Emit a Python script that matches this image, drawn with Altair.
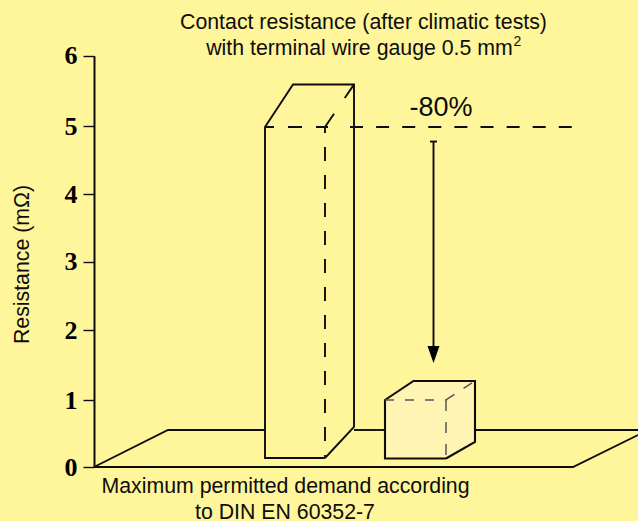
import altair as alt
import pandas as pd

BG = "#FFF59B"
INK = "#0D0D0D"

tick_values = [0, 1, 2, 3, 4, 5, 6]
tick_range = [467, 400.3, 330.3, 261.7, 194.3, 126.3, 55.7]

# solid outlines
floor_left_x = [94, 168, 265]
floor_left_y = [0, 0.555, 0.555]
floor_mid_x = [354, 385]
floor_mid_y = [0.555, 0.555]
floor_right_x = [475, 638]
floor_right_y = [0.555, 0.555]
floor_front_x = [94, 573, 638]
floor_front_y = [0, 0, 0.48]

tall_x = [325, 265, 265, 293, 354, 354, 325]
tall_y = [0.135, 0.135, 4.99, 5.592, 5.592, 0.60, 0.135]

small_fill_x = [385, 413.5, 446, 475]
small_fill_top = [1.005, 1.276, 1.276, 1.276]
small_fill_bottom = [0.127, 0.127, 0.127, 0.375]
small_x = [446, 385, 385, 413.5, 475, 475, 446]
small_y = [0.127, 0.127, 1.005, 1.276, 1.276, 0.375, 0.127]

# dashed lines
level_a_x = [265, 328]
level_a_y = [4.99, 4.99]
level_b_x = [350, 572]
level_b_y = [4.99, 4.99]
tall_edge_x = [325, 325]
tall_edge_y = [4.99, 0.135]
tall_diag_x = [325, 354]
tall_diag_y = [4.99, 5.592]
small_h_x = [385, 446]
small_h_y = [1.005, 1.005]
small_v_x = [446, 446]
small_v_y = [1.005, 0.127]
small_d_x = [446, 475]
small_d_y = [1.005, 1.276]

# arrow
arrow_x = [433.5, 433.5]
arrow_y = [4.776, 1.76]
cap_x = [430, 437]
cap_y = [4.776, 4.776]
head_x = [433.5]
head_y = [1.654]

# texts
text_x = [363.5, 359.5, 517.5, 441, 285.5, 285]
text_y = [6.47, 6.10, 6.19, 5.259, -0.30, -0.69]
text_s = [
    "Contact resistance (after climatic tests)",
    "with terminal wire gauge 0.5 mm",
    "2",
    "-80%",
    "Maximum permitted demand according",
    "to DIN EN 60352-7",
]
text_size = [21.3, 21.3, 14, 27, 21.3, 21.3]

x_enc = alt.X("x:Q", scale=alt.Scale(domain=[94, 638], nice=False, zero=False), axis=None)
y_enc = alt.Y(
    "y:Q",
    scale=alt.Scale(domain=tick_values, range=tick_range, nice=False, zero=False),
    axis=alt.Axis(
        values=tick_values, format="d", grid=False,
        title="Resistance (mΩ)", titleFont="Liberation Sans", titleFontSize=21.3,
        titleFontWeight="normal", titleColor=INK, titleX=-72, titleY=264,
        titleAlign="center", titleBaseline="middle",
        labelFont="Liberation Serif", labelFontWeight="bold", labelFontSize=26,
        labelColor="#000000", labelPadding=6, labelBaseline="middle",
        tickSize=11, tickWidth=1.4, tickColor=INK, domainWidth=2, domainColor=INK,
    ),
)


def line(xs, ys, width=1.9, dash=None, offset=0, color=INK):
    df = pd.DataFrame({"x": xs, "y": ys, "i": range(len(xs))})
    kw = dict(stroke=color, strokeWidth=width, clip=False, interpolate="linear")
    if dash:
        kw.update(strokeDash=dash, strokeDashOffset=offset)
    return alt.Chart(df).mark_line(**kw).encode(x=x_enc, y=y_enc, order=alt.Order("i:Q"))


fill_df = pd.DataFrame({"x": small_fill_x, "y": small_fill_top, "y2": small_fill_bottom})
small_fill = alt.Chart(fill_df).mark_area(color="#FFF4B3", opacity=1).encode(
    x=x_enc, y=y_enc, y2="y2:Q"
)

head = alt.Chart(pd.DataFrame({"x": head_x, "y": head_y})).mark_point(
    shape="M-1,-1.4L1,-1.4L0,1.4Z", size=144, filled=True, color="#000000", opacity=1
).encode(x=x_enc, y=y_enc)

txt = alt.Chart(pd.DataFrame({"x": text_x, "y": text_y, "t": text_s, "s": text_size})).mark_text(
    font="Liberation Sans", color=INK, align="center", baseline="middle"
).encode(
    x=x_enc, y=y_enc, text="t:N",
    size=alt.Size("s:Q", scale=None, legend=None),
)

chart = alt.layer(
    line(floor_left_x, floor_left_y),
    line(floor_mid_x, floor_mid_y),
    line(floor_right_x, floor_right_y),
    line(floor_front_x, floor_front_y),
    line(tall_x, tall_y),
    small_fill,
    line(small_x, small_y, width=2.1),
    line(level_a_x, level_a_y, dash=[14, 14], offset=5),
    line(level_b_x, level_b_y, dash=[13, 13.1]),
    line(tall_edge_x, tall_edge_y, dash=[14, 14], offset=8),
    line(tall_diag_x, tall_diag_y, dash=[16, 19]),
    line(small_h_x, small_h_y, width=1.5, dash=[9, 11], color="#555555"),
    line(small_v_x, small_v_y, width=1.5, dash=[11, 11], color="#555555"),
    line(small_d_x, small_d_y, width=1.5, dash=[10, 11], color="#555555"),
    line(arrow_x, arrow_y),
    line(cap_x, cap_y),
    head,
    txt,
).properties(
    width=544, height=521, background=BG,
    padding={"left": 94, "top": 0, "right": 0, "bottom": 0},
    autosize=alt.AutoSizeParams(type="none"),
).configure_view(stroke=None)

chart.save("out.html", embed_options={
    "renderer": "svg", "actions": False,
    "defaultStyle": "html,body{margin:0;background:#FFF59B;overflow:hidden}",
})
